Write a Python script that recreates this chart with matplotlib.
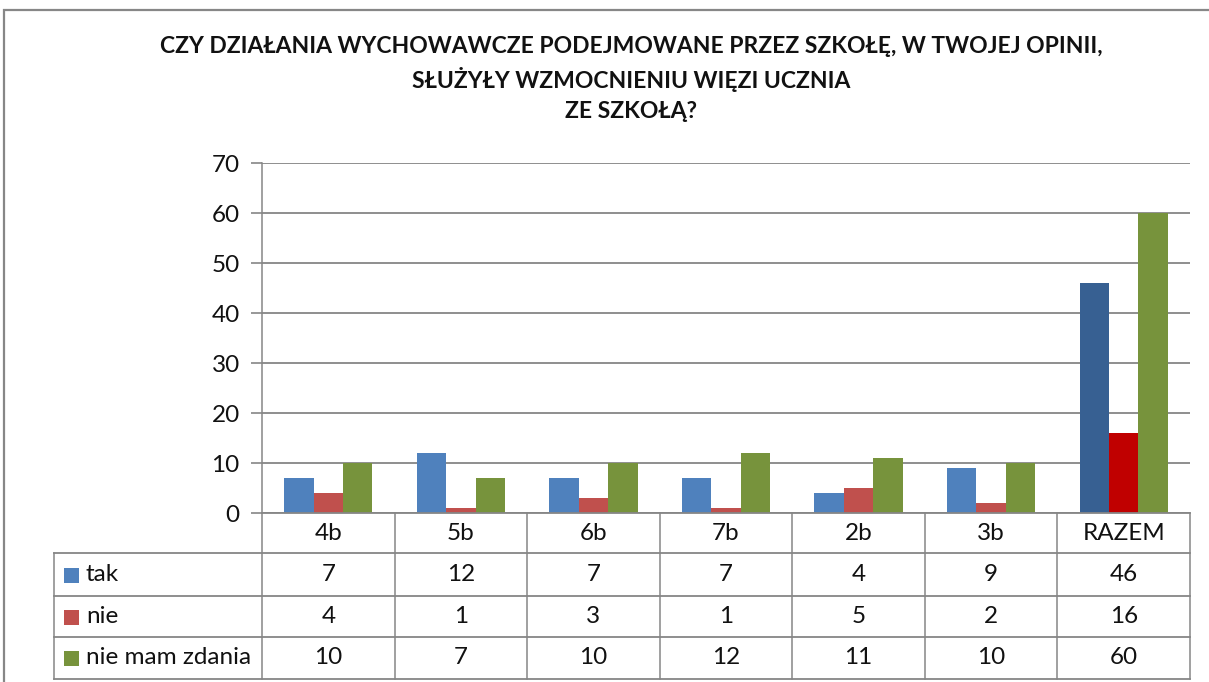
import matplotlib
matplotlib.use("Agg")
import matplotlib.pyplot as plt
from matplotlib.lines import Line2D
from matplotlib.patches import Rectangle
import numpy as np

categories = ["4b", "5b", "6b", "7b", "2b", "3b", "RAZEM"]
series_names = ["tak", "nie", "nie mam zdania"]
tak = [7, 12, 7, 7, 4, 9, 46]
nie = [4, 1, 3, 1, 5, 2, 16]
nie_mam_zdania = [10, 7, 10, 12, 11, 10, 60]
y_ticks = [0, 10, 20, 30, 40, 50, 60, 70]
title = ("CZY DZIAŁANIA WYCHOWAWCZE PODEJMOWANE PRZEZ SZKOŁĘ, W TWOJEJ OPINII,\n"
         "SŁUŻYŁY WZMOCNIENIU WIĘZI UCZNIA\nZE SZKOŁĄ?")

series = [tak, nie, nie_mam_zdania]
base_colors = ["#4F81BD", "#C0504D", "#77933C"]
last_colors = ["#376092", "#C00000", "#77933C"]
grid_c = "#868686"

W, H = 1209, 682
plt.rcParams['font.family'] = ['Lato', 'DejaVu Sans']
fig = plt.figure(figsize=(W / 100, H / 100), dpi=100)

def fx(px):
    return px / W

def fy(py):
    return 1 - py / H

left, right, top, bottom = 262, 1190, 163, 513
ax = fig.add_axes([fx(left), fy(bottom), fx(right) - fx(left), fy(top) - fy(bottom)])

n = len(categories)
w = 1 / 4.5
x = np.arange(n)
for k, vals in enumerate(series):
    cols = [base_colors[k]] * (n - 1) + [last_colors[k]]
    ax.bar(x + (k - 1) * w, vals, width=w, color=cols, zorder=3, linewidth=0)

tfs = 17.5
ax.set_xlim(-0.5, n - 0.5)
ax.set_ylim(0, 70)
ax.set_yticks(y_ticks)
ax.set_yticklabels([str(t) for t in y_ticks], fontsize=tfs, color="#111111")
ax.tick_params(axis='y', length=8, width=1.2, color=grid_c, pad=8)
ax.set_xticks([])
ax.yaxis.grid(True, color=grid_c, linewidth=1.3, zorder=0)
for s in ["top", "right", "bottom"]:
    ax.spines[s].set_visible(False)
ax.spines["left"].set_color(grid_c)
ax.spines["left"].set_linewidth(1.1)

# Title
fig.text(fx(631), fy(79), title, ha="center", va="center", multialignment="center",
         fontsize=16.5, fontweight="bold", linespacing=1.5, color="#111111")

# Outer border
fig.add_artist(Rectangle((fx(4), fy(700)), fx(1230) - fx(4), fy(10) - fy(700),
                         transform=fig.transFigure, fill=False, edgecolor="#878787", linewidth=1.6))

# Data table
row_y = [513, 553, 596, 637, 679]
tbl_left = 54
col_w = (right - left) / n
col_x = [left + i * col_w for i in range(n + 1)]

def hline(y, x0, x1, lw=1.3):
    fig.add_artist(Line2D([fx(x0), fx(x1)], [fy(y), fy(y)], color=grid_c, linewidth=lw,
                          transform=fig.transFigure))

def vline(xp, y0, y1, lw=1.1):
    fig.add_artist(Line2D([fx(xp), fx(xp)], [fy(y0), fy(y1)], color=grid_c, linewidth=lw,
                          transform=fig.transFigure))

hline(row_y[0], left, right)
for yy in row_y[1:]:
    hline(yy, tbl_left, right)
for cx in col_x:
    vline(cx, row_y[0], row_y[-1])
vline(tbl_left, row_y[1], row_y[-1])

for i, cat in enumerate(categories):
    fig.text(fx((col_x[i] + col_x[i + 1]) / 2), fy((row_y[0] + row_y[1]) / 2), cat,
             ha="center", va="center", fontsize=tfs, color="#111111")

for k, (name, vals) in enumerate(zip(series_names, series)):
    yc = (row_y[k + 1] + row_y[k + 2]) / 2
    fig.add_artist(Rectangle((fx(64), fy(yc + 8)), fx(15), fy(0) - fy(15),
                             transform=fig.transFigure, facecolor=base_colors[k], edgecolor="none"))
    fig.text(fx(86), fy(yc), name, ha="left", va="center", fontsize=tfs, color="#111111")
    for i, v in enumerate(vals):
        fig.text(fx((col_x[i] + col_x[i + 1]) / 2), fy(yc), str(v),
                 ha="center", va="center", fontsize=tfs, color="#111111")

fig.savefig("out.png", dpi=100)
